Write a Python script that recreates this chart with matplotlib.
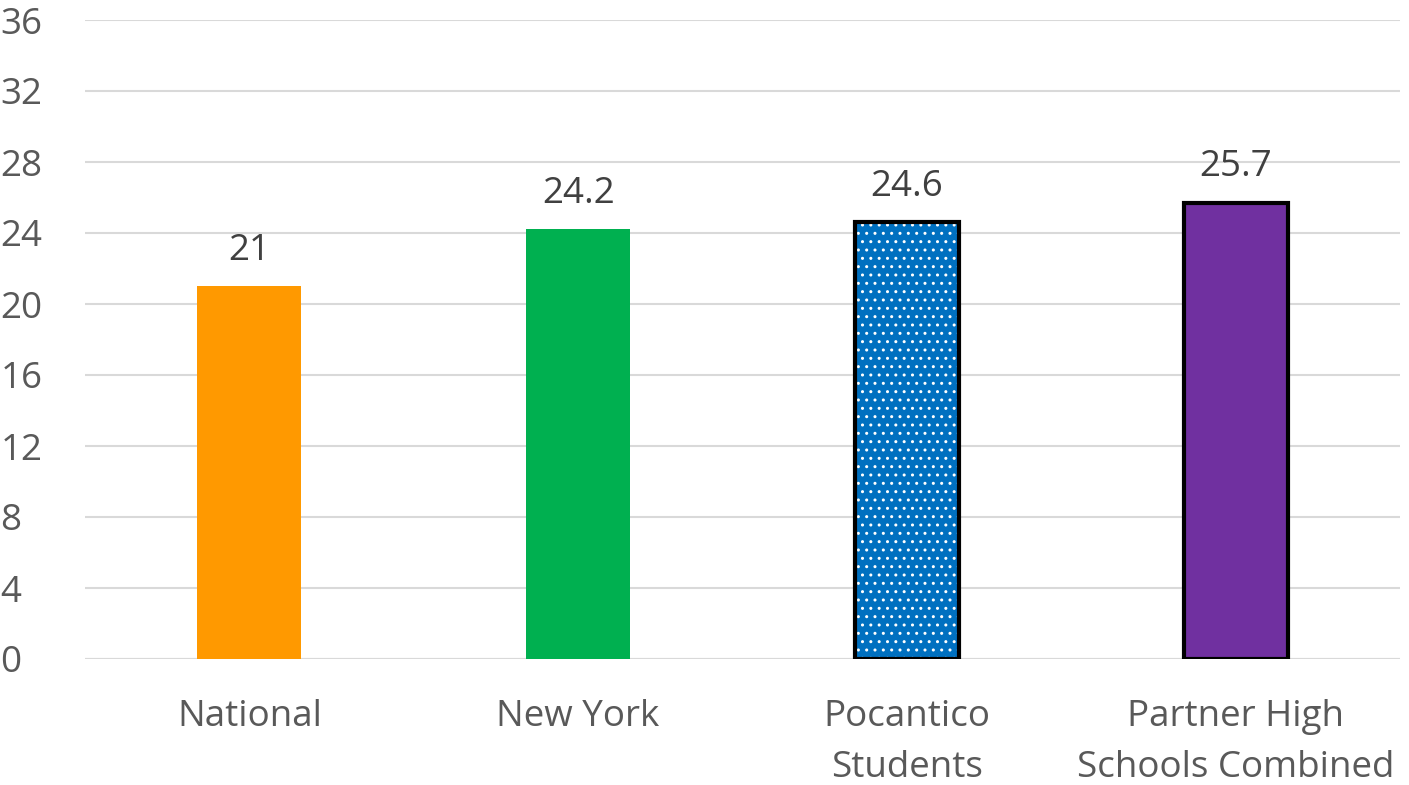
import matplotlib
matplotlib.use("Agg")
import matplotlib.pyplot as plt

categories = ["National", "New York", "Pocantico\nStudents", "Partner High\nSchools Combined"]
values = [21, 24.2, 24.6, 25.7]
value_labels = ["21", "24.2", "24.6", "25.7"]
colors = ["#FF9900", "#00B050", "#0070C0", "#7030A0"]
yticks = [0, 4, 8, 12, 16, 20, 24, 28, 32, 36]

plt.rcParams['font.family'] = ['Open Sans', 'DejaVu Sans']

fig = plt.figure(figsize=(14.09, 7.85), dpi=100)
ax = fig.add_axes([85/1409, 126/785, 1315/1409, 639/785])

x = list(range(len(categories)))
w = 0.317
fs = 26.5
for i, (v, c) in enumerate(zip(values, colors)):
    if i == 2:
        ax.bar(i, v, width=w, color=c, edgecolor="white", hatch="..", linewidth=0, zorder=3)
        ax.bar(i, v, width=w, fill=False, edgecolor="black", linewidth=3, zorder=4)
    elif i == 3:
        ax.bar(i, v, width=w, color=c, edgecolor="black", linewidth=3, zorder=3)
    else:
        ax.bar(i, v, width=w, color=c, linewidth=0, zorder=3)
    ax.text(i, v + 1.0, value_labels[i], ha="center", va="bottom", fontsize=fs, color="#404040")

ax.set_xlim(-0.5, 3.5)
ax.set_ylim(0, 36)
ax.set_yticks(yticks)
ax.set_yticklabels([str(t) for t in yticks], fontsize=fs, color="#595959")
ax.set_xticks(x)
ax.set_xticklabels(categories, fontsize=fs, color="#595959", linespacing=1.55)
ax.tick_params(axis="both", length=0)
ax.tick_params(axis="x", pad=29)
ax.tick_params(axis="y", pad=61)
for lab in ax.get_yticklabels():
    lab.set_horizontalalignment("left")
ax.yaxis.grid(True, color="#D9D9D9", linewidth=1.5, zorder=0)
for s in ax.spines.values():
    s.set_visible(False)
ax.axhline(0, color="#D9D9D9", linewidth=1.5, zorder=1)

fig.savefig("out.png", dpi=100)
